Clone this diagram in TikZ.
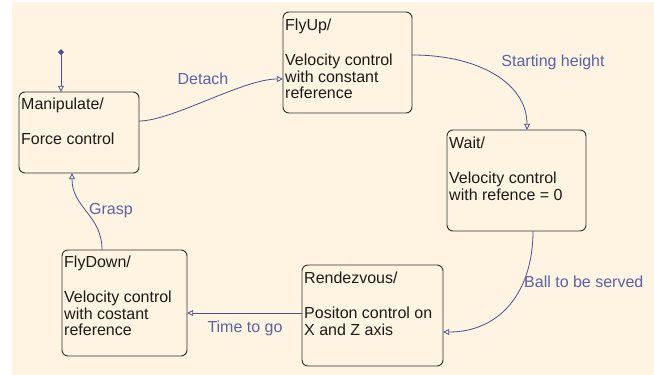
\documentclass[tikz,border=0pt]{standalone}
\usepackage{fontspec}
\setmainfont{Liberation Sans}
\usetikzlibrary{arrows.meta}
\definecolor{bgcream}{HTML}{FFF4E2}
\definecolor{linecol}{HTML}{49508F}
\definecolor{labcol}{HTML}{5862A6}
\definecolor{boxcol}{HTML}{2E2E2E}
\definecolor{txtcol}{HTML}{1E1A1A}
\tikzset{
  statebox/.style={draw=boxcol, line width=0.9pt, rounded corners=6pt, fill=bgcream, inner sep=0pt},
  stxt/.style={anchor=north west, inner sep=0pt, align=left, text=txtcol,
    font=\fontsize{16}{16.5}\selectfont},
  lab/.style={inner sep=0pt, text=labcol, font=\fontsize{16}{16.5}\selectfont},
  conn/.style={draw=linecol, line width=0.8pt, -{Triangle[open,length=6pt,width=6pt]}},
}
\begin{document}
\begin{tikzpicture}[x=1pt,y=-1pt]
\useasboundingbox (0,0) rectangle (654,375);
\fill[white] (0,0) rectangle (654,375);
\fill[bgcream] (12,2) rectangle (654,375);

% states
\draw[statebox] (19,92) rectangle (139,173);
\node[inner sep=0pt, minimum width=120pt, minimum height=81pt] (man) at (79,132.5) {};
\draw[statebox] (283,12) rectangle (412,113);
\node[inner sep=0pt, minimum width=129pt, minimum height=101pt] (up) at (347.5,62.5) {};
\draw[statebox] (447,130) rectangle (586,231);
\node[inner sep=0pt, minimum width=139pt, minimum height=101pt] (wait) at (516.5,180.5) {};
\draw[statebox] (302,265) rectangle (443,366);
\node[inner sep=0pt, minimum width=141pt, minimum height=101pt] (ren) at (372.5,315.5) {};
\draw[statebox] (62,250) rectangle (187,356);
\node[inner sep=0pt, minimum width=125pt, minimum height=106pt] (down) at (124.5,303) {};

% texts
\node[stxt] (mant) at (21,97.45) {\strut Manipulate/\\[18pt]Force control};
\node[stxt] (upt) at (285,18.45) {\strut FlyUp/\\[18pt]Velocity control\\with constant\\reference};
\node[stxt] (waitt) at (449,136.45) {\strut Wait/\\[18pt]Velocity control\\with refence = 0};
\node[stxt] (rent) at (304,271.45) {\strut Rendezvous/\\[18pt]Positon control on\\X and Z axis};
\node[stxt] (downt) at (64,255.45) {\strut FlyDown/\\[18pt]Velocity control\\with costant\\reference};

% initial
\fill[linecol] (61,49) -- (64,52) -- (61,55) -- (58,52) -- cycle;
\coordinate (init) at (61,52);
\draw[conn] (init) -- (man.north -| init);

% transitions
\draw[conn] (man.east |- 0,121) .. controls (172,121) and (243,79) .. (up.west |- 0,79);
\node[lab] (ldetach) at (203,79) {Detach};

\draw[conn] (up.east |- 0,55) .. controls (480,55) and (527,84) .. (wait.north -| 527,0);
\node[lab] (lstart) at (553,62) {Starting height};

\draw[conn] (wait.south -| 533,0) .. controls (533,292) and (500,332) .. (ren.east |- 0,332);
\node[lab, anchor=west] (lball) at (524,282) {Ball to be served};

\draw[conn] (ren.west |- 0,313) -- (down.east |- 0,313);
\node[lab] (ltime) at (245,328) {Time to go};

\draw[conn] (down.north -| 102,0) .. controls (102,215) and (72,208) .. (man.south -| 72,0);
\node[lab] (lgrasp) at (111,211) {Grasp};
\end{tikzpicture}
\end{document}
